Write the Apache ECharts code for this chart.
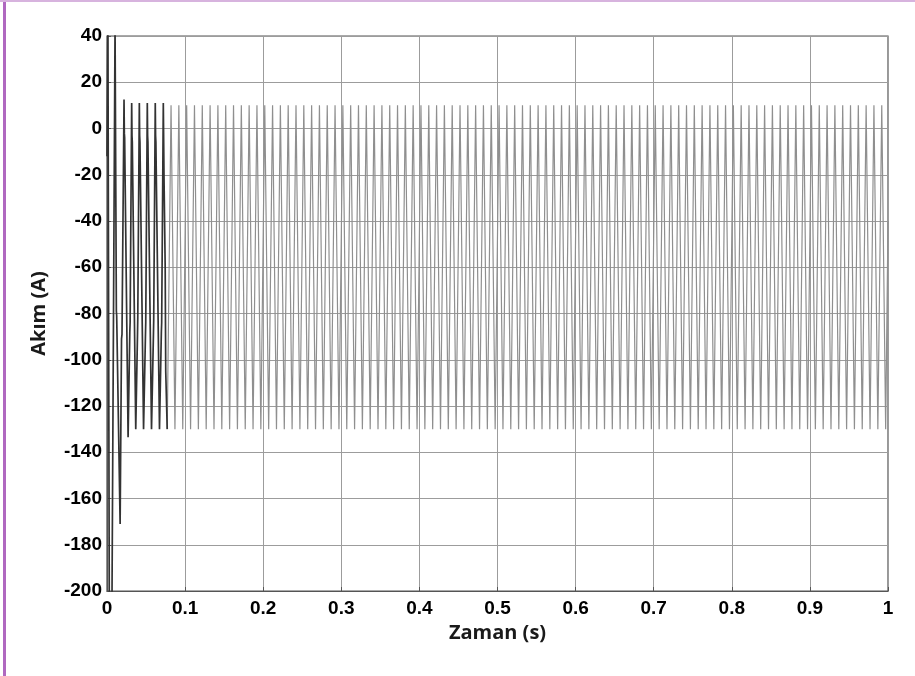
<!DOCTYPE html>
<html>
<head>
<meta charset="utf-8">
<script src="https://cdn.jsdelivr.net/npm/echarts@6/dist/echarts.min.js"></script>
<style>
html,body{margin:0;padding:0;background:#fff;}
#c{width:915px;height:676px;}
</style>
</head>
<body>
<div id="c"></div>
<script>
// ---- data ----
var xAxisName = 'Zaman (s)';
var yAxisName = 'Akım (A)';

// start-up transient (dark trace): time (s), current (A)
var transientT = [0.0000,0.0012,0.0030,0.0062,0.0103,0.0120,0.0124,0.0168,0.0186,0.0192,
  0.0218,0.0222,0.0226,0.0270,0.0292,0.0296,0.0316,0.0320,0.0324,0.0368,
  0.0390,0.0394,0.0414,0.0418,0.0422,0.0468,0.0492,0.0496,0.0516,0.0520,
  0.0524,0.0570,0.0594,0.0598,0.0618,0.0622,0.0626,0.0672,0.0696,0.0700,
  0.0721,0.0730,0.0745,0.0752,0.0771];
var transientY = [-12,45,-215,-215,45,-79,-81,-171,-91,-89,
  12.5,-2,-4,-133.5,-88,-84,11,-3,-6,-130,
  -90,-82,11,-3,-6,-130,-90,-84,11,-3,
  -6,-130,-90,-83,11,-3,-6,-130,-88,-84,
  11,-21,-60,-105,-130];

// steady state (light trace): peak times / values
var peakT = [0.082,0.092,0.102,0.112,0.122,0.132,0.142,0.152,0.162,0.172,
  0.182,0.192,0.202,0.212,0.222,0.232,0.242,0.252,0.262,0.272,
  0.282,0.292,0.302,0.312,0.322,0.332,0.342,0.352,0.362,0.372,
  0.382,0.392,0.402,0.412,0.422,0.432,0.442,0.452,0.462,0.472,
  0.482,0.492,0.502,0.512,0.522,0.532,0.542,0.552,0.562,0.572,
  0.582,0.592,0.602,0.612,0.622,0.632,0.642,0.652,0.662,0.672,
  0.682,0.692,0.702,0.712,0.722,0.732,0.742,0.752,0.762,0.772,
  0.782,0.792,0.802,0.812,0.822,0.832,0.842,0.852,0.862,0.872,
  0.882,0.892,0.902,0.912,0.922,0.932,0.942,0.952,0.962,0.972,
  0.982,0.992];
var peakY = [10,10,10,10,10,10,10,10,10,10,
  10,10,10,10,10,10,10,10,10,10,
  10,10,10,10,10,10,10,10,10,10,
  10,10,10,10,10,10,10,10,10,10,
  10,10,10,10,10,10,10,10,10,10,
  10,10,10,10,10,10,10,10,10,10,
  10,10,10,10,10,10,10,10,10,10,
  10,10,10,10,10,10,10,10,10,10,
  10,10,10,10,10,10,10,10,10,10,
  10,10];
// steady state trough times / values
var troughT = [0.087,0.097,0.107,0.117,0.127,0.137,0.147,0.157,0.167,0.177,
  0.187,0.197,0.207,0.217,0.227,0.237,0.247,0.257,0.267,0.277,
  0.287,0.297,0.307,0.317,0.327,0.337,0.347,0.357,0.367,0.377,
  0.387,0.397,0.407,0.417,0.427,0.437,0.447,0.457,0.467,0.477,
  0.487,0.497,0.507,0.517,0.527,0.537,0.547,0.557,0.567,0.577,
  0.587,0.597,0.607,0.617,0.627,0.637,0.647,0.657,0.667,0.677,
  0.687,0.697,0.707,0.717,0.727,0.737,0.747,0.757,0.767,0.777,
  0.787,0.797,0.807,0.817,0.827,0.837,0.847,0.857,0.867,0.877,
  0.887,0.897,0.907,0.917,0.927,0.937,0.947,0.957,0.967,0.977,
  0.987,0.997];
var troughY = [-130,-130,-130,-130,-130,-130,-130,-130,-130,-130,
  -130,-130,-130,-130,-130,-130,-130,-130,-130,-130,
  -130,-130,-130,-130,-130,-130,-130,-130,-130,-130,
  -130,-130,-130,-130,-130,-130,-130,-130,-130,-130,
  -130,-130,-130,-130,-130,-130,-130,-130,-130,-130,
  -130,-130,-130,-130,-130,-130,-130,-130,-130,-130,
  -130,-130,-130,-130,-130,-130,-130,-130,-130,-130,
  -130,-130,-130,-130,-130,-130,-130,-130,-130,-130,
  -130,-130,-130,-130,-130,-130,-130,-130,-130,-130,
  -130,-130];
var steadyStart = [0.0771, -130];
var steadyEnd = [1.0, -40];

// ---- build series ----
var darkData = transientT.map(function (t, i) { return [t, transientY[i]]; });
var lightData = [steadyStart];
for (var i = 0; i < peakT.length; i++) {
  lightData.push([peakT[i], peakY[i]]);
  lightData.push([troughT[i], troughY[i]]);
}
lightData.push(steadyEnd);

var chart = echarts.init(document.getElementById('c'), null, {renderer: 'canvas'});
var labelFont = {fontFamily: 'Liberation Sans', fontWeight: 'bold', fontSize: 19, color: '#000'};
chart.setOption({
  animation: false,
  backgroundColor: '#fff',
  grid: {left: 107, right: 27, top: 36, bottom: 85, show: true, borderColor: '#555', borderWidth: 1.2, containLabel: false},
  xAxis: {
    type: 'value', min: 0, max: 1, interval: 0.1,
    name: xAxisName, nameLocation: 'middle', nameGap: 32,
    nameTextStyle: {fontFamily: 'Open Sans', fontWeight: 'bold', fontSize: 20, color: '#1a1a1a'},
    axisLine: {show: true, onZero: false, lineStyle: {color: '#555', width: 1.2}},
    axisTick: {show: true, inside: true, length: 4, lineStyle: {color: '#555'}},
    axisLabel: Object.assign({margin: 8}, labelFont),
    splitLine: {show: true, lineStyle: {color: '#9c9c9c', width: 1}}
  },
  yAxis: {
    type: 'value', min: -200, max: 40, interval: 20,
    name: yAxisName, nameLocation: 'middle', nameGap: 58, nameRotate: 90,
    nameTextStyle: {fontFamily: 'Open Sans', fontWeight: 'bold', fontSize: 20, color: '#1a1a1a'},
    axisLine: {show: true, onZero: false, lineStyle: {color: '#555', width: 1.2}},
    axisTick: {show: true, inside: true, length: 4, lineStyle: {color: '#555'}},
    axisLabel: Object.assign({margin: 5}, labelFont),
    splitLine: {show: true, lineStyle: {color: '#9c9c9c', width: 1}}
  },
  graphic: [
    {type: 'rect', left: 3, top: 0, shape: {width: 3, height: 676}, style: {fill: '#b068c0'}, z: 100},
    {type: 'rect', left: 0, top: 0, shape: {width: 915, height: 2}, style: {fill: '#d7b3de'}, z: 100}
  ],
  series: [
    {type: 'line', data: lightData, showSymbol: false, symbol: 'none', clip: true,
      lineStyle: {color: '#8f8f8f', width: 1.2}, z: 2},
    {type: 'line', data: darkData, showSymbol: false, symbol: 'none', clip: true,
      lineStyle: {color: '#333', width: 1.7}, z: 3}
  ]
});
</script>
</body>
</html>
